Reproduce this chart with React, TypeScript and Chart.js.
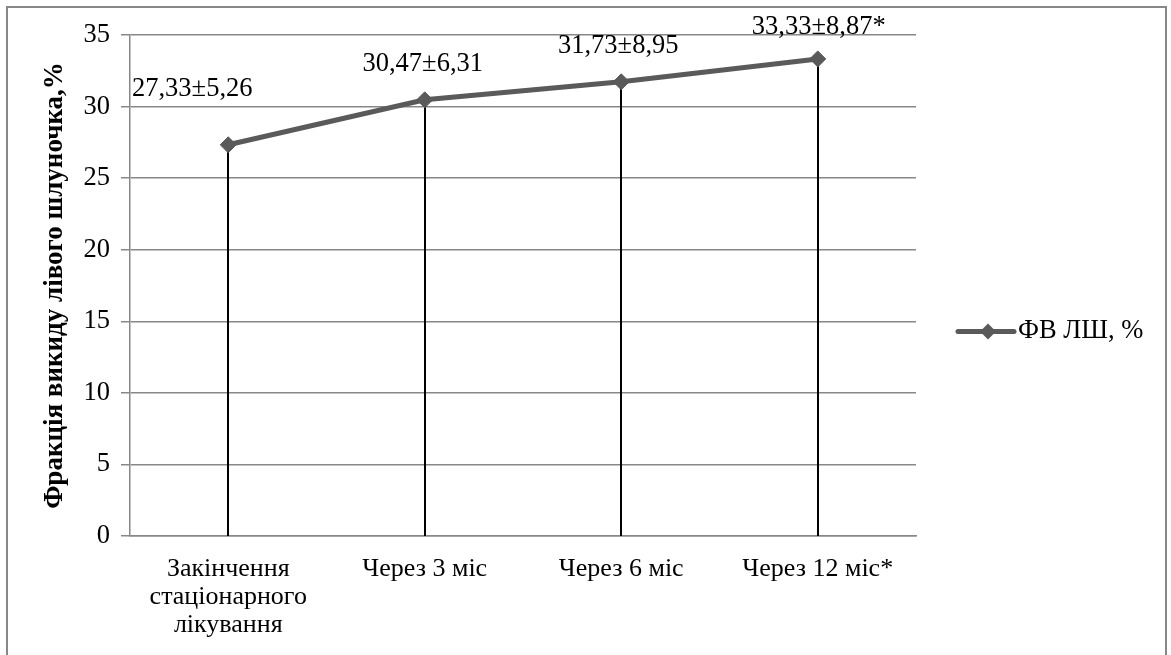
import React, { useEffect, useRef } from "react";
import { Chart, registerables } from "chart.js";

Chart.register(...registerables);

// ---- data ----
const categories: (string | string[])[] = [
  ["Закінчення", "стаціонарного", "лікування"],
  "Через 3 міс",
  "Через 6 міс",
  "Через 12 міс*",
];
const seriesName = "ФВ ЛШ, %";
const values = [27.33, 30.47, 31.73, 33.33];
const errors = [5.26, 6.31, 8.95, 8.87];
const labelSuffix = ["", "", "", "*"];
const yAxisTitle = "Фракція викиду лівого шлуночка,%";
const yMin = 0;
const yMax = 35;
const yStep = 5;

// ---- style ----
const FONT = "'Liberation Serif', 'Times New Roman', serif";
const LINE_COLOR = "#5a5a5a";
const GRID_COLOR = "#888888";
const LABEL_OFFSETS = [
  [-36, -56],
  [-2, -36],
  [-3, -36],
  [1, -32],
];

const fmt = (n: number) => n.toFixed(2).replace(".", ",");

const chartDecor = {
  id: "chartDecor",
  beforeDraw(chart: any) {
    const { ctx, width, height } = chart;
    ctx.save();
    ctx.fillStyle = "#ffffff";
    ctx.fillRect(0, 0, width, height);
    ctx.strokeStyle = GRID_COLOR;
    ctx.lineWidth = 2;
    ctx.strokeRect(7, 7, 1159, 700);
    ctx.restore();
  },
  beforeDatasetsDraw(chart: any) {
    const { ctx } = chart;
    const meta = chart.getDatasetMeta(0);
    const y0 = chart.scales.y.getPixelForValue(0);
    ctx.save();
    ctx.strokeStyle = "#000000";
    ctx.lineWidth = 2;
    meta.data.forEach((pt: any) => {
      ctx.beginPath();
      ctx.moveTo(Math.round(pt.x), pt.y);
      ctx.lineTo(Math.round(pt.x), y0);
      ctx.stroke();
    });
    ctx.restore();
  },
  afterDatasetsDraw(chart: any) {
    const { ctx, chartArea } = chart;
    const meta = chart.getDatasetMeta(0);
    ctx.save();
    ctx.fillStyle = "#000000";
    ctx.font = `26.5px ${FONT}`;
    ctx.textAlign = "center";
    ctx.textBaseline = "middle";
    meta.data.forEach((pt: any, i: number) => {
      const txt = `${fmt(values[i])}±${fmt(errors[i])}${labelSuffix[i]}`;
      const [dx, dy] = LABEL_OFFSETS[i];
      ctx.fillText(txt, pt.x + dx, pt.y + dy);
    });

    // legend
    const ly = chart.height / 2 + 4;
    const lx = chartArea.right + 42;
    ctx.strokeStyle = LINE_COLOR;
    ctx.lineWidth = 5;
    ctx.lineCap = "round";
    ctx.beginPath();
    ctx.moveTo(lx, ly);
    ctx.lineTo(lx + 56, ly);
    ctx.stroke();
    const cx = lx + 30;
    const r = 8;
    ctx.fillStyle = LINE_COLOR;
    ctx.beginPath();
    ctx.moveTo(cx, ly - r);
    ctx.lineTo(cx + r, ly);
    ctx.lineTo(cx, ly + r);
    ctx.lineTo(cx - r, ly);
    ctx.closePath();
    ctx.fill();
    ctx.fillStyle = "#000000";
    ctx.textAlign = "left";
    ctx.fillText(seriesName, lx + 60, ly);
    ctx.restore();
  },
};

export default function App() {
  const ref = useRef<HTMLCanvasElement | null>(null);

  useEffect(() => {
    if (!ref.current) return;
    const chart = new Chart(ref.current, {
      type: "line",
      data: {
        labels: categories,
        datasets: [
          {
            label: seriesName,
            data: values,
            borderColor: LINE_COLOR,
            backgroundColor: LINE_COLOR,
            borderWidth: 5,
            pointStyle: "rectRot",
            pointRadius: 8,
            pointHoverRadius: 8,
            pointBorderWidth: 1,
            pointBackgroundColor: LINE_COLOR,
            pointBorderColor: LINE_COLOR,
            tension: 0,
          },
        ],
      },
      options: {
        animation: false,
        responsive: false,
        maintainAspectRatio: false,
        events: [],
        layout: { padding: { left: 0, top: 35, right: 255, bottom: 0 } },
        plugins: {
          legend: { display: false },
          tooltip: { enabled: false },
          title: { display: false },
        },
        scales: {
          x: {
            type: "category",
            offset: true,
            grid: { display: false, drawTicks: false },
            border: { display: true, color: GRID_COLOR, width: 1.5 },
            ticks: {
              color: "#000000",
              font: { family: FONT, size: 26, lineHeight: 1.08 },
              padding: 19,
              maxRotation: 0,
              autoSkip: false,
            },
            afterFit: (scale: any) => {
              scale.height = 119;
            },
          },
          y: {
            type: "linear",
            min: yMin,
            max: yMax,
            ticks: {
              stepSize: yStep,
              color: "#000000",
              font: { family: FONT, size: 26.5 },
              padding: 11,
            },
            grid: {
              color: GRID_COLOR,
              lineWidth: 1.5,
              drawTicks: true,
              tickLength: 9,
            },
            border: { display: true, color: GRID_COLOR, width: 1.5 },
            title: {
              display: true,
              text: yAxisTitle,
              color: "#000000",
              font: { family: FONT, size: 27, weight: "bold", lineHeight: 1.2 },
              padding: { top: 39, bottom: 0 },
            },
            afterFit: (scale: any) => {
              scale.width = 130;
            },
          },
        },
      },
      plugins: [chartDecor],
    });
    return () => chart.destroy();
  }, []);

  return (
    <div style={{ position: "fixed", left: 0, top: 0, width: 1171, height: 655, background: "#fff" }}>
      <canvas ref={ref} width={1171} height={655} style={{ display: "block", width: 1171, height: 655 }} />
    </div>
  );
}
